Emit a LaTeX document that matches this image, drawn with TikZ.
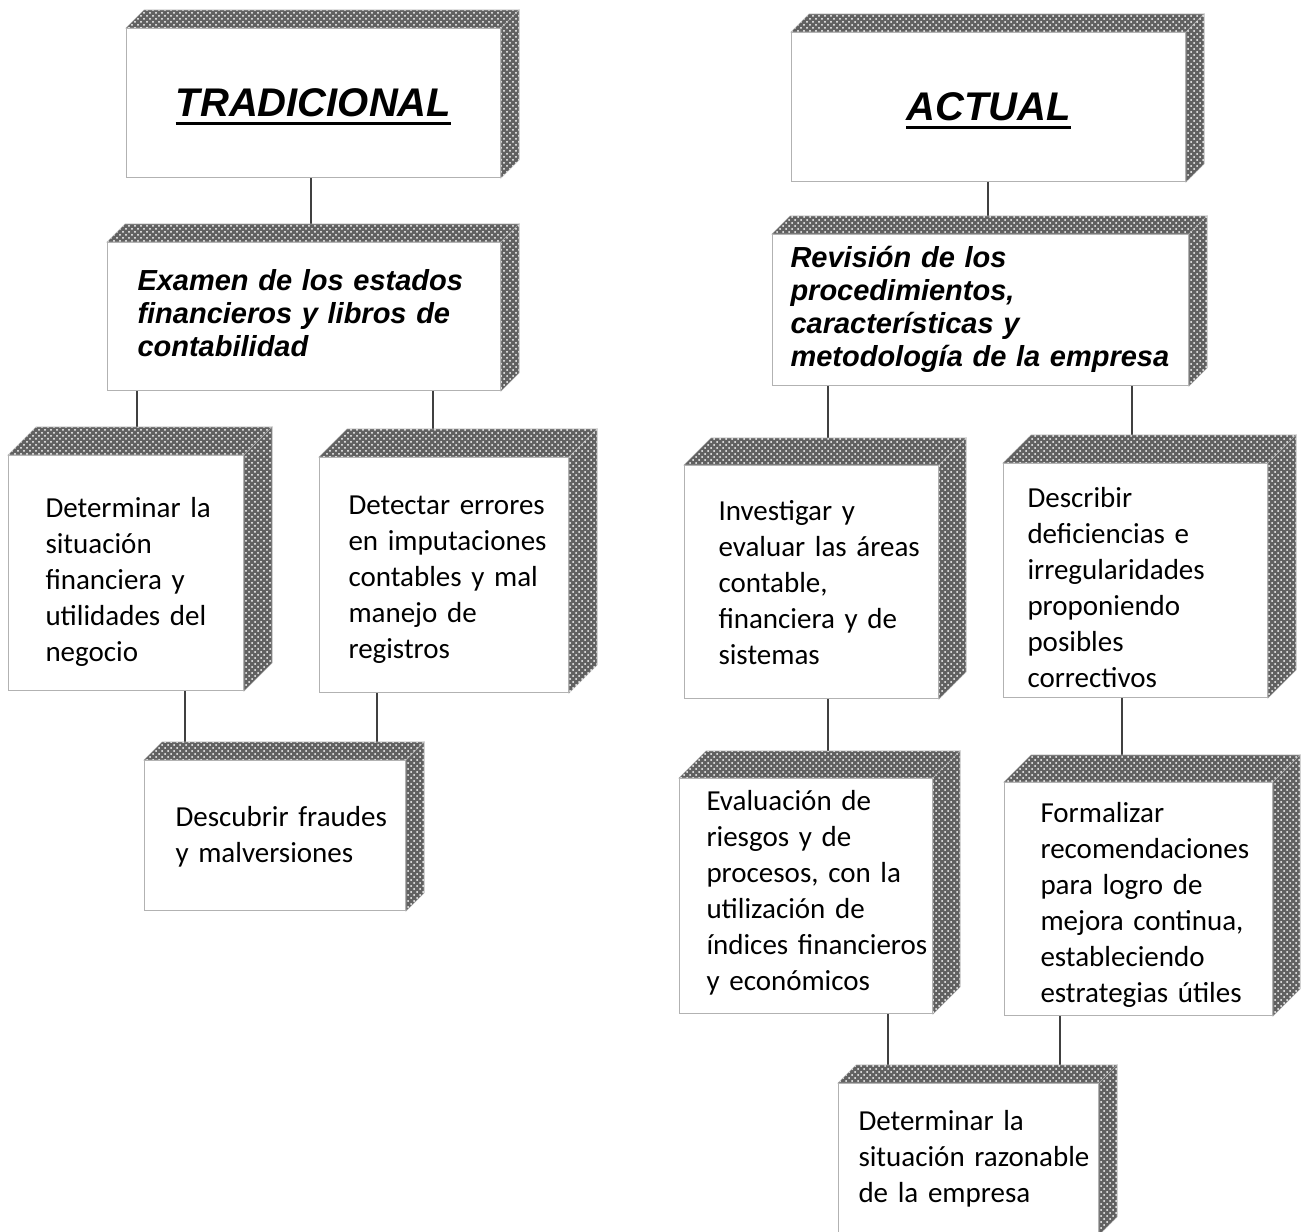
\documentclass[tikz,border=0pt]{standalone}
\usepackage{fontspec}
\setmainfont{Carlito}
\newfontfamily\arial{Liberation Sans}
\usetikzlibrary{patterns}

\pgfdeclarelayer{fondo}
\pgfsetlayers{fondo,main}

\newcommand{\subrayado}[1]{\setbox0\hbox{#1}\rlap{\smash{\rule[-4pt]{\wd0}{1.3pt}}}\box0}
% [bajada en px]{sangria en px}{lineas}
\newcommand{\renglones}[3][0]{\hspace*{\dimexpr #2pt/2\relax}%
  \raisebox{\dimexpr -#1pt/2\relax}[\height][\depth]{\begin{tabular}{@{}l@{}}#3\end{tabular}}}

\tikzset{
  relieve/.style={fill=black!62, draw=black!35, line width=0.3pt,
    postaction={pattern=crosshatch dots, pattern color=white}},
  cubo/.style={draw=black!30, line width=0.5pt, fill=white, anchor=north west, inner sep=0pt,
    append after command={\pgfextra{\let\cara\tikzlastnode
      \path[relieve] (\cara.north west) -- ([shift={(#1,-#1)}]\cara.north west)
        -- ([shift={(#1,-#1)}]\cara.north east) -- (\cara.north east) -- cycle;
      \path[relieve] (\cara.north east) -- ([shift={(#1,-#1)}]\cara.north east)
        -- ([shift={(#1,-#1)}]\cara.south east) -- (\cara.south east) -- cycle;}}},
  titulo/.style={cubo=#1, font=\arial\bfseries\itshape\fontsize{20}{24}\selectfont},
  caja/.style={cubo=#1, font=\fontsize{14.5}{18}\selectfont},
  encab/.style={cubo=#1, font=\arial\bfseries\itshape\fontsize{14.5}{16.5}\selectfont},
  linea/.style={draw=black!75, line width=1pt}
}

\begin{document}
\begin{tikzpicture}[x=0.5pt, y=-0.5pt]
  \useasboundingbox (0,0) rectangle (1304,1231);

  % tradicional
  \node[titulo=18, minimum width=0.5pt*374, minimum height=0.5pt*149] (trad)  at (126,28)  {\subrayado{TRADICIONAL}};
  \node[encab=18, text width=0.5pt*393, minimum height=0.5pt*148] (exam)      at (107,242) {\renglones{30}{Examen de los estados\\financieros y libros de\\contabilidad}};
  \node[caja=28, text width=0.5pt*235, minimum height=0.5pt*235]  (detsit)    at (8,455)   {\renglones[9]{37}{Determinar la\\situación\\financiera y\\utilidades del\\negocio}};
  \node[caja=28, text width=0.5pt*249, minimum height=0.5pt*235]  (deterr)    at (319,457) {\renglones[4]{29}{Detectar errores\\en imputaciones\\contables y mal\\manejo de\\registros}};
  \node[caja=18, text width=0.5pt*261, minimum height=0.5pt*150]  (fraud)     at (144,760) {\renglones[2]{31}{Descubrir fraudes\\y malversiones}};

  % actual
  \node[titulo=18, minimum width=0.5pt*394, minimum height=0.5pt*149] (act)   at (791,32)  {\subrayado{ACTUAL}};
  \node[encab=18, text width=0.5pt*416, minimum height=0.5pt*151] (rev)       at (772,234) {\renglones{18}{Revisión de los\\procedimientos,\\características y\\metodología de la empresa}};
  \node[caja=27, text width=0.5pt*254, minimum height=0.5pt*233]  (inv)       at (684,465) {\renglones[3]{34}{Investigar y\\evaluar las áreas\\contable,\\financiera y de\\sistemas}};
  \node[caja=28, text width=0.5pt*264, minimum height=0.5pt*234]  (desc)      at (1003,463) {\renglones[10]{24}{Describir\\deficiencias e\\irregularidades\\proponiendo\\posibles\\correctivos}};
  \node[caja=27, text width=0.5pt*253, minimum height=0.5pt*235]  (eval)      at (679,778) {\renglones[-3]{27}{Evaluación de\\riesgos y de\\procesos, con la\\utilización de\\índices financieros\\y económicos}};
  \node[caja=27, text width=0.5pt*268, minimum height=0.5pt*233]  (form)      at (1004,782) {\renglones[6]{36}{Formalizar\\recomendaciones\\para logro de\\mejora continua,\\estableciendo\\estrategias útiles}};
  \node[caja=18, text width=0.5pt*260, minimum height=0.5pt*151]  (razon)     at (838,1083) {\renglones{20}{Determinar la\\situación razonable\\de la empresa}};

  \begin{pgfonlayer}{fondo}
    \foreach \a/\b/\x in {trad/exam/311, exam/detsit/137, exam/deterr/433, detsit/fraud/185,
                          deterr/fraud/377, act/rev/988, rev/inv/828, rev/desc/1132,
                          inv/eval/828, desc/form/1122, eval/razon/888, form/razon/1060}
      \draw[linea] (\a.south -| \x,0) -- (\b.north -| \x,0);
  \end{pgfonlayer}
\end{tikzpicture}
\end{document}
